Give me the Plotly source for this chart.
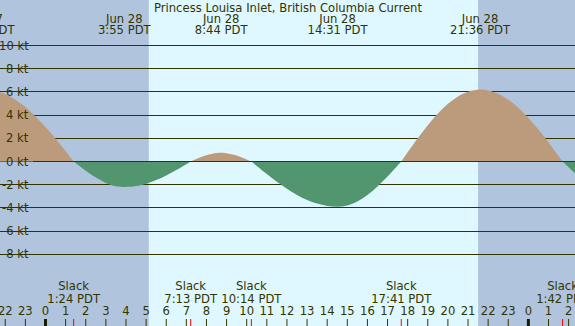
import plotly.graph_objects as go

TITLE = "Princess Louisa Inlet, British Columbia Current"

# Time axis: hours after Jun 28 00:00 PDT
curve_hours = [-3.0, -2.5, -2.0, -1.5, -1.0, -0.5, 0.0, 0.5, 1.0, 1.4,
               1.5, 2.0, 2.5, 3.0, 3.5, 3.917, 4.5, 5.0, 5.5, 6.0, 6.5, 7.0, 7.217,
               7.5, 8.0, 8.5, 8.733, 9.0, 9.5, 10.0, 10.233,
               10.5, 11.0, 11.5, 12.0, 12.5, 13.0, 13.5, 14.0, 14.517, 15.0, 15.5,
               16.0, 16.5, 17.0, 17.5, 17.683,
               18.0, 18.5, 19.0, 19.5, 20.0, 20.5, 21.0, 21.6, 22.0, 22.5, 23.0,
               23.5, 24.0, 24.5, 25.0, 25.5, 25.7,
               26.0, 26.5, 27.0]
curve_knots = [6.2, 6.10, 5.81, 5.33, 4.69, 3.89, 2.97, 1.96, 0.88, 0.0,
               -0.14, -0.80, -1.39, -1.85, -2.13, -2.2, -2.12, -1.91, -1.60, -1.20, -0.74, -0.23, 0.0,
               0.22, 0.54, 0.73, 0.75, 0.72, 0.52, 0.18, 0.0,
               -0.38, -1.08, -1.75, -2.35, -2.88, -3.31, -3.63, -3.83, -3.9, -3.79, -3.45,
               -2.89, -2.16, -1.30, -0.35, 0.0,
               0.79, 2.00, 3.12, 4.13, 4.97, 5.61, 6.02, 6.2, 6.13, 5.84, 5.33,
               4.63, 3.76, 2.75, 1.64, 0.48, 0.0,
               -0.5, -1.3, -2.0]

slack_hours = [1.4, 7.2167, 10.2333, 17.6833, 25.7]
slack_labels = ["1:24 PDT", "7:13 PDT", "10:14 PDT", "17:41 PDT", "1:42 PDT"]

peak_hours = [-3.033, 3.917, 8.733, 14.517, 21.6]
peak_dates = ["Jun 27", "Jun 28", "Jun 28", "Jun 28", "Jun 28"]
peak_labels = ["20:58 PDT", "3:55 PDT", "8:44 PDT", "14:31 PDT", "21:36 PDT"]

night_start = [-6.0, 21.5]
night_end = [5.133, 29.133]

hour_ticks = list(range(-2, 27))
hour_labels = [str(h % 24) for h in hour_ticks]

ytick_vals = [-8, -6, -4, -2, 0, 2, 4, 6, 8, 10]
ytick_text = [f"{v} kt" for v in ytick_vals]

DAY = "#DFF8FF"
NIGHT = "#B0C4DE"
FLOOD = "#BC9B7C"
EBB = "#529670"
INK = "#333300"
FONT = "DejaVu Sans"
W, H = 575, 326
LABEL_W = 33  # pixels reserved left of the grid for the kt labels

fig = go.Figure()

# split curve into lobes at slack points
lobes = []
cur_x, cur_y = [], []
for x, y in zip(curve_hours, curve_knots):
    cur_x.append(x)
    cur_y.append(y)
    if y == 0 and len(cur_x) > 1:
        lobes.append((cur_x, cur_y))
        cur_x, cur_y = [x], [y]
if len(cur_x) > 1:
    lobes.append((cur_x, cur_y))

for xs, ys in lobes:
    pos = max(ys) > 0
    fig.add_trace(go.Scatter(
        x=xs, y=ys, mode="lines", line=dict(width=0, shape="spline", smoothing=1.0),
        fill="tozeroy", fillcolor=FLOOD if pos else EBB, hoverinfo="skip",
        showlegend=False))

def py(px):
    return 1 - px / H

txt = dict(family=FONT, size=11.6, color=INK)

def text_trace(xs, ypx, labels):
    fig.add_trace(go.Scatter(
        x=xs, y=[py(ypx)] * len(xs), yaxis="y2", mode="text", text=labels,
        textposition="middle center", textfont=txt, hoverinfo="skip",
        showlegend=False, cliponaxis=True))

text_trace(peak_hours, 19.8, peak_dates)
text_trace(peak_hours, 31.3, peak_labels)
text_trace(slack_hours, 287.5, ["Slack"] * len(slack_hours))
text_trace(slack_hours, 300.3, slack_labels)
text_trace(hour_ticks, 311.8, hour_labels)

shapes = []
for a, b in zip(night_start, night_end):
    shapes.append(dict(type="rect", xref="x", yref="paper", x0=a, x1=b, y0=0, y1=1,
                       fillcolor=NIGHT, line=dict(width=0), layer="below"))
# hide the grid behind the kt labels
shapes.append(dict(type="rect", xref="paper", yref="paper", x0=0, x1=LABEL_W / W, y0=0, y1=1,
                   fillcolor=NIGHT, line=dict(width=0), layer="between"))
shapes.append(dict(type="line", xref="paper", yref="y", x0=LABEL_W / W, x1=1, y0=0, y1=0,
                   line=dict(color=INK, width=1), layer="above"))
for h in hour_ticks:
    mid = (h % 24 == 0)
    shapes.append(dict(type="line", xref="x", yref="paper", x0=h, x1=h, y0=0, y1=7 / H,
                       line=dict(color="#1a1a00" if mid else INK, width=3 if mid else 1),
                       layer="above"))
for s in slack_hours:
    shapes.append(dict(type="line", xref="x", yref="paper", x0=s, x1=s, y0=0, y1=7 / H,
                       line=dict(color="#ff0000", width=1), layer="above"))

annotations = [dict(xref="paper", yref="paper", x=0.5, y=py(7.8), text=TITLE,
                    showarrow=False, font=txt, xanchor="center", yanchor="middle")]
for v, t in zip(ytick_vals, ytick_text):
    annotations.append(dict(xref="paper", yref="y", x=31 / W, y=v, text=t, showarrow=False,
                            font=txt, xanchor="right", yanchor="middle"))

PX_PER_HR = 20.12
PX_PER_KT = 11.6
ZERO_X, ZERO_Y = 45.5, 161.5
x0 = -ZERO_X / PX_PER_HR
x1 = (W - ZERO_X) / PX_PER_HR
fig.update_layout(
    width=W, height=H, autosize=False,
    margin=dict(l=0, r=0, t=0, b=0, pad=0),
    plot_bgcolor=DAY, paper_bgcolor=DAY,
    xaxis=dict(range=[x0, x1], visible=False, fixedrange=True),
    yaxis=dict(range=[-(H - ZERO_Y) / PX_PER_KT, ZERO_Y / PX_PER_KT], fixedrange=True,
               tickmode="array", tickvals=ytick_vals, showticklabels=False, ticks="",
               showline=False, zeroline=False, showgrid=True, gridcolor=INK, gridwidth=1),
    yaxis2=dict(range=[0, 1], overlaying="y", visible=False, fixedrange=True),
    shapes=shapes, annotations=annotations, showlegend=False, hovermode=False,
)

fig.write_html("out.html", config={"displayModeBar": False},
               post_script="document.body.style.margin='0';document.body.style.padding='0';")
